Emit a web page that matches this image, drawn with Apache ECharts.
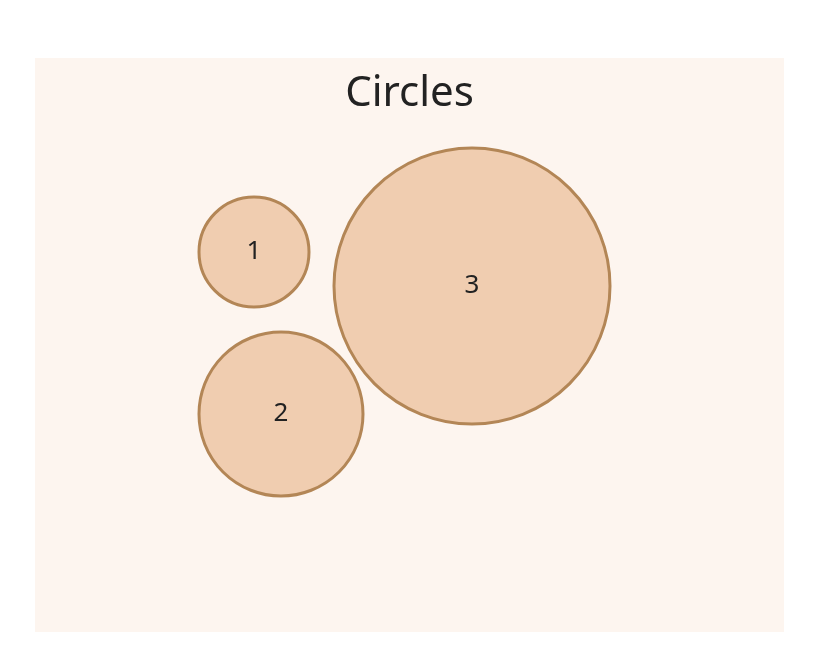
<!DOCTYPE html>
<html>
<head>
<meta charset="utf-8">
<script src="https://cdn.jsdelivr.net/npm/echarts@6/dist/echarts.min.js"></script>
<style>
  html, body { margin: 0; padding: 0; background: #fff; }
  #chart-container { position: absolute; left: 35px; top: 58px; width: 749px; height: 574px; background: #fdf5ef; }
</style>
</head>
<body>
<div id="chart-container"></div>
<script>
var names = ['1', '2', '3'];
var xs = [219, 246, 437];
var ys = [380, 218, 346];
var sizes = [110, 164, 276];

var myChart = echarts.init(document.getElementById('chart-container'), null, { renderer: 'canvas' });

var data = names.map(function (n, i) {
  return { name: n, value: [xs[i], ys[i]], symbolSize: sizes[i] };
});

var option = {
  title: {
    text: 'Circles',
    left: 'center',
    top: 10,
    textStyle: { fontSize: 42, fontWeight: 'normal', color: '#222', fontFamily: 'Noto Sans' }
  },
  grid: { left: 0, right: 0, top: 0, bottom: 0 },
  xAxis: { type: 'value', min: 0, max: 749, show: false },
  yAxis: { type: 'value', min: 0, max: 574, show: false },
  series: [{
    type: 'scatter',
    data: data,
    itemStyle: { color: '#f0cdb0', borderColor: '#b38656', borderWidth: 3, opacity: 1 },
    label: {
      show: true,
      position: 'inside',
      formatter: '{b}',
      fontSize: 26,
      color: '#222',
      fontFamily: 'Noto Sans'
    }
  }]
};

myChart.setOption(option);
window.addEventListener('resize', myChart.resize);
</script>
</body>
</html>
